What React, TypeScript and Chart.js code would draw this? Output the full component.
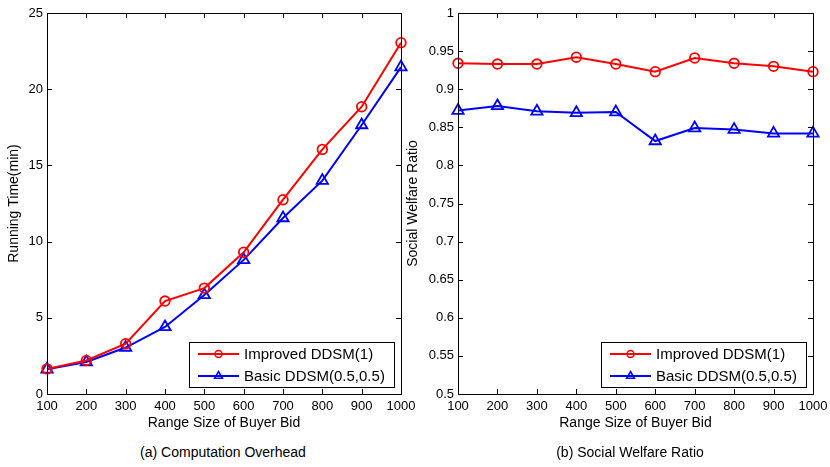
import { useEffect, useRef } from 'react';
import { Chart, registerables } from 'chart.js';

Chart.register(...registerables);

const FONT = '"Liberation Sans", Arial, Helvetica, sans-serif';
Chart.defaults.font.family = FONT;
Chart.defaults.color = '#000';

// x categories shared by both panels
const bidRanges = ['100', '200', '300', '400', '500', '600', '700', '800', '900', '1000'];

// (a) running time in minutes
const improvedTime = [1.65, 2.2, 3.3, 6.1, 6.95, 9.3, 12.75, 16.05, 18.85, 23.05];
const basicTime = [1.62, 2.1, 3.05, 4.4, 6.5, 8.8, 11.55, 14.0, 17.65, 21.45];

// (b) social welfare ratio
const improvedWelfare = [0.934, 0.933, 0.933, 0.942, 0.933, 0.923, 0.941, 0.934, 0.93, 0.923];
const basicWelfare = [0.872, 0.878, 0.871, 0.869, 0.87, 0.832, 0.849, 0.847, 0.842, 0.842];

const seriesNames = ['Improved DDSM(1)', 'Basic DDSM(0.5,0.5)'];
const RED = '#ff0000';
const BLUE = '#0000ff';

// matlab style box + inward ticks on all four sides
const boxPlugin = {
  id: 'matlabBox',
  afterDatasetsDraw(chart: any) {
    const { ctx, chartArea: a, scales } = chart;
    const len = 5;
    ctx.save();
    ctx.strokeStyle = '#000';
    ctx.lineWidth = 1;
    ctx.beginPath();
    scales.x.ticks.forEach((_t: any, i: number) => {
      const px = Math.round(scales.x.getPixelForTick(i)) + 0.5;
      ctx.moveTo(px, a.bottom);
      ctx.lineTo(px, a.bottom - len);
      ctx.moveTo(px, a.top);
      ctx.lineTo(px, a.top + len);
    });
    scales.y.ticks.forEach((_t: any, i: number) => {
      const py = Math.round(scales.y.getPixelForTick(i)) + 0.5;
      ctx.moveTo(a.left, py);
      ctx.lineTo(a.left + len, py);
      ctx.moveTo(a.right, py);
      ctx.lineTo(a.right - len, py);
    });
    ctx.stroke();
    ctx.strokeRect(Math.round(a.left) + 0.5, Math.round(a.top) + 0.5, Math.round(a.right - a.left), Math.round(a.bottom - a.top));
    ctx.restore();
  },
};

// boxed legend in the lower right corner
const legendPlugin = {
  id: 'boxLegend',
  afterDraw(chart: any) {
    const { ctx, chartArea: a } = chart;
    const w = 205;
    const h = 45;
    const x = a.right - 7 - w;
    const y = a.bottom - 7 - h;
    ctx.save();
    ctx.fillStyle = '#fff';
    ctx.fillRect(x, y, w, h);
    ctx.strokeStyle = '#000';
    ctx.lineWidth = 1;
    ctx.strokeRect(Math.round(x) + 0.5, Math.round(y) + 0.5, w, h);
    chart.data.datasets.forEach((ds: any, i: number) => {
      const cy = y + 12 + i * 22;
      ctx.strokeStyle = ds.borderColor;
      ctx.lineWidth = 2;
      ctx.beginPath();
      ctx.moveTo(x + 9, cy);
      ctx.lineTo(x + 50, cy);
      ctx.stroke();
      ctx.lineWidth = 1.5;
      ctx.beginPath();
      if (ds.pointStyle === 'triangle') {
        const r = 4.5;
        ctx.moveTo(x + 29.5, cy - r);
        ctx.lineTo(x + 29.5 + r * 0.87, cy + r * 0.5);
        ctx.lineTo(x + 29.5 - r * 0.87, cy + r * 0.5);
        ctx.closePath();
      } else {
        ctx.arc(x + 29.5, cy, 3.5, 0, Math.PI * 2);
      }
      ctx.stroke();
      ctx.fillStyle = '#000';
      ctx.font = `15px ${FONT}`;
      ctx.textBaseline = 'middle';
      ctx.textAlign = 'left';
      ctx.fillText(ds.label, x + 55, cy + 1);
    });
    ctx.restore();
  },
};

interface PanelProps {
  improved: number[];
  basic: number[];
  yMin: number;
  yMax: number;
  yStep: number;
  yTitle: string;
  yWidth: number;
  yTitlePad: number;
  rightPad: number;
  width: number;
  height: number;
}

function Panel(p: PanelProps) {
  const canvasRef = useRef<HTMLCanvasElement>(null);

  useEffect(() => {
    if (!canvasRef.current) return;
    const chart = new Chart(canvasRef.current, {
      type: 'line',
      data: {
        labels: bidRanges,
        datasets: [
          {
            label: seriesNames[0],
            data: p.improved,
            borderColor: RED,
            backgroundColor: RED,
            borderWidth: 2,
            pointStyle: 'circle',
            pointRadius: 4.8,
            pointBorderWidth: 1.8,
            pointBackgroundColor: 'rgba(0,0,0,0)',
            pointBorderColor: RED,
            tension: 0,
          },
          {
            label: seriesNames[1],
            data: p.basic,
            borderColor: BLUE,
            backgroundColor: BLUE,
            borderWidth: 2,
            pointStyle: 'triangle',
            pointRadius: 6.5,
            pointBorderWidth: 1.8,
            pointBackgroundColor: 'rgba(0,0,0,0)',
            pointBorderColor: BLUE,
            tension: 0,
          },
        ],
      },
      options: {
        responsive: false,
        animation: false,
        layout: { padding: { top: 13, right: p.rightPad, left: 0, bottom: 0 } },
        plugins: {
          legend: { display: false },
          tooltip: { enabled: false },
        },
        scales: {
          x: {
            type: 'category',
            offset: false,
            grid: { display: false, drawTicks: false, tickLength: 0 },
            border: { display: false },
            ticks: { font: { size: 13 }, padding: 5, maxRotation: 0, autoSkip: false, color: '#000' },
            title: { display: true, text: 'Range Size of Buyer Bid', font: { size: 14 }, padding: { top: 0, bottom: 8 }, color: '#000' },
            afterFit: (s: any) => {
              s.height = 46;
              s.paddingLeft = 0;
              s.paddingRight = 0;
            },
          },
          y: {
            min: p.yMin,
            max: p.yMax,
            grid: { display: false, drawTicks: false, tickLength: 0 },
            border: { display: false },
            ticks: {
              stepSize: p.yStep,
              font: { size: 13 },
              padding: 4,
              color: '#000',
              callback: (v: any) => String(Number(Number(v).toFixed(2))),
            },
            title: { display: true, text: p.yTitle, font: { size: 14 }, padding: { top: p.yTitlePad, bottom: 0 }, color: '#000' },
            afterFit: (s: any) => {
              s.width = p.yWidth;
              s.paddingTop = 0;
              s.paddingBottom = 0;
            },
          },
        },
      },
      plugins: [boxPlugin, legendPlugin],
    });
    return () => chart.destroy();
  }, []);

  return <canvas ref={canvasRef} width={p.width} height={p.height} style={{ display: 'block' }} />;
}

const captionStyle: React.CSSProperties = {
  position: 'absolute',
  top: 444,
  fontSize: 14,
  lineHeight: '16px',
  textAlign: 'center',
  fontFamily: FONT,
  color: '#000',
};

export default function App() {
  return (
    <div style={{ position: 'fixed', left: 0, top: 0, width: 830, height: 467, background: '#fff', overflow: 'hidden' }}>
      <div style={{ position: 'absolute', left: 0, top: 0 }}>
        <Panel
          improved={improvedTime}
          basic={basicTime}
          yMin={0}
          yMax={25}
          yStep={5}
          yTitle="Running Time(min)"
          yWidth={47}
          yTitlePad={5.6}
          rightPad={14}
          width={415}
          height={440}
        />
      </div>
      <div style={{ position: 'absolute', left: 400, top: 0 }}>
        <Panel
          improved={improvedWelfare}
          basic={basicWelfare}
          yMin={0.5}
          yMax={1}
          yStep={0.05}
          yTitle="Social Welfare Ratio"
          yWidth={58}
          yTitlePad={4.6}
          rightPad={17}
          width={430}
          height={440}
        />
      </div>
      <div style={{ ...captionStyle, left: 0, width: 446 }}>(a) Computation Overhead</div>
      <div style={{ ...captionStyle, left: 530, width: 200 }}>(b) Social Welfare Ratio</div>
    </div>
  );
}
